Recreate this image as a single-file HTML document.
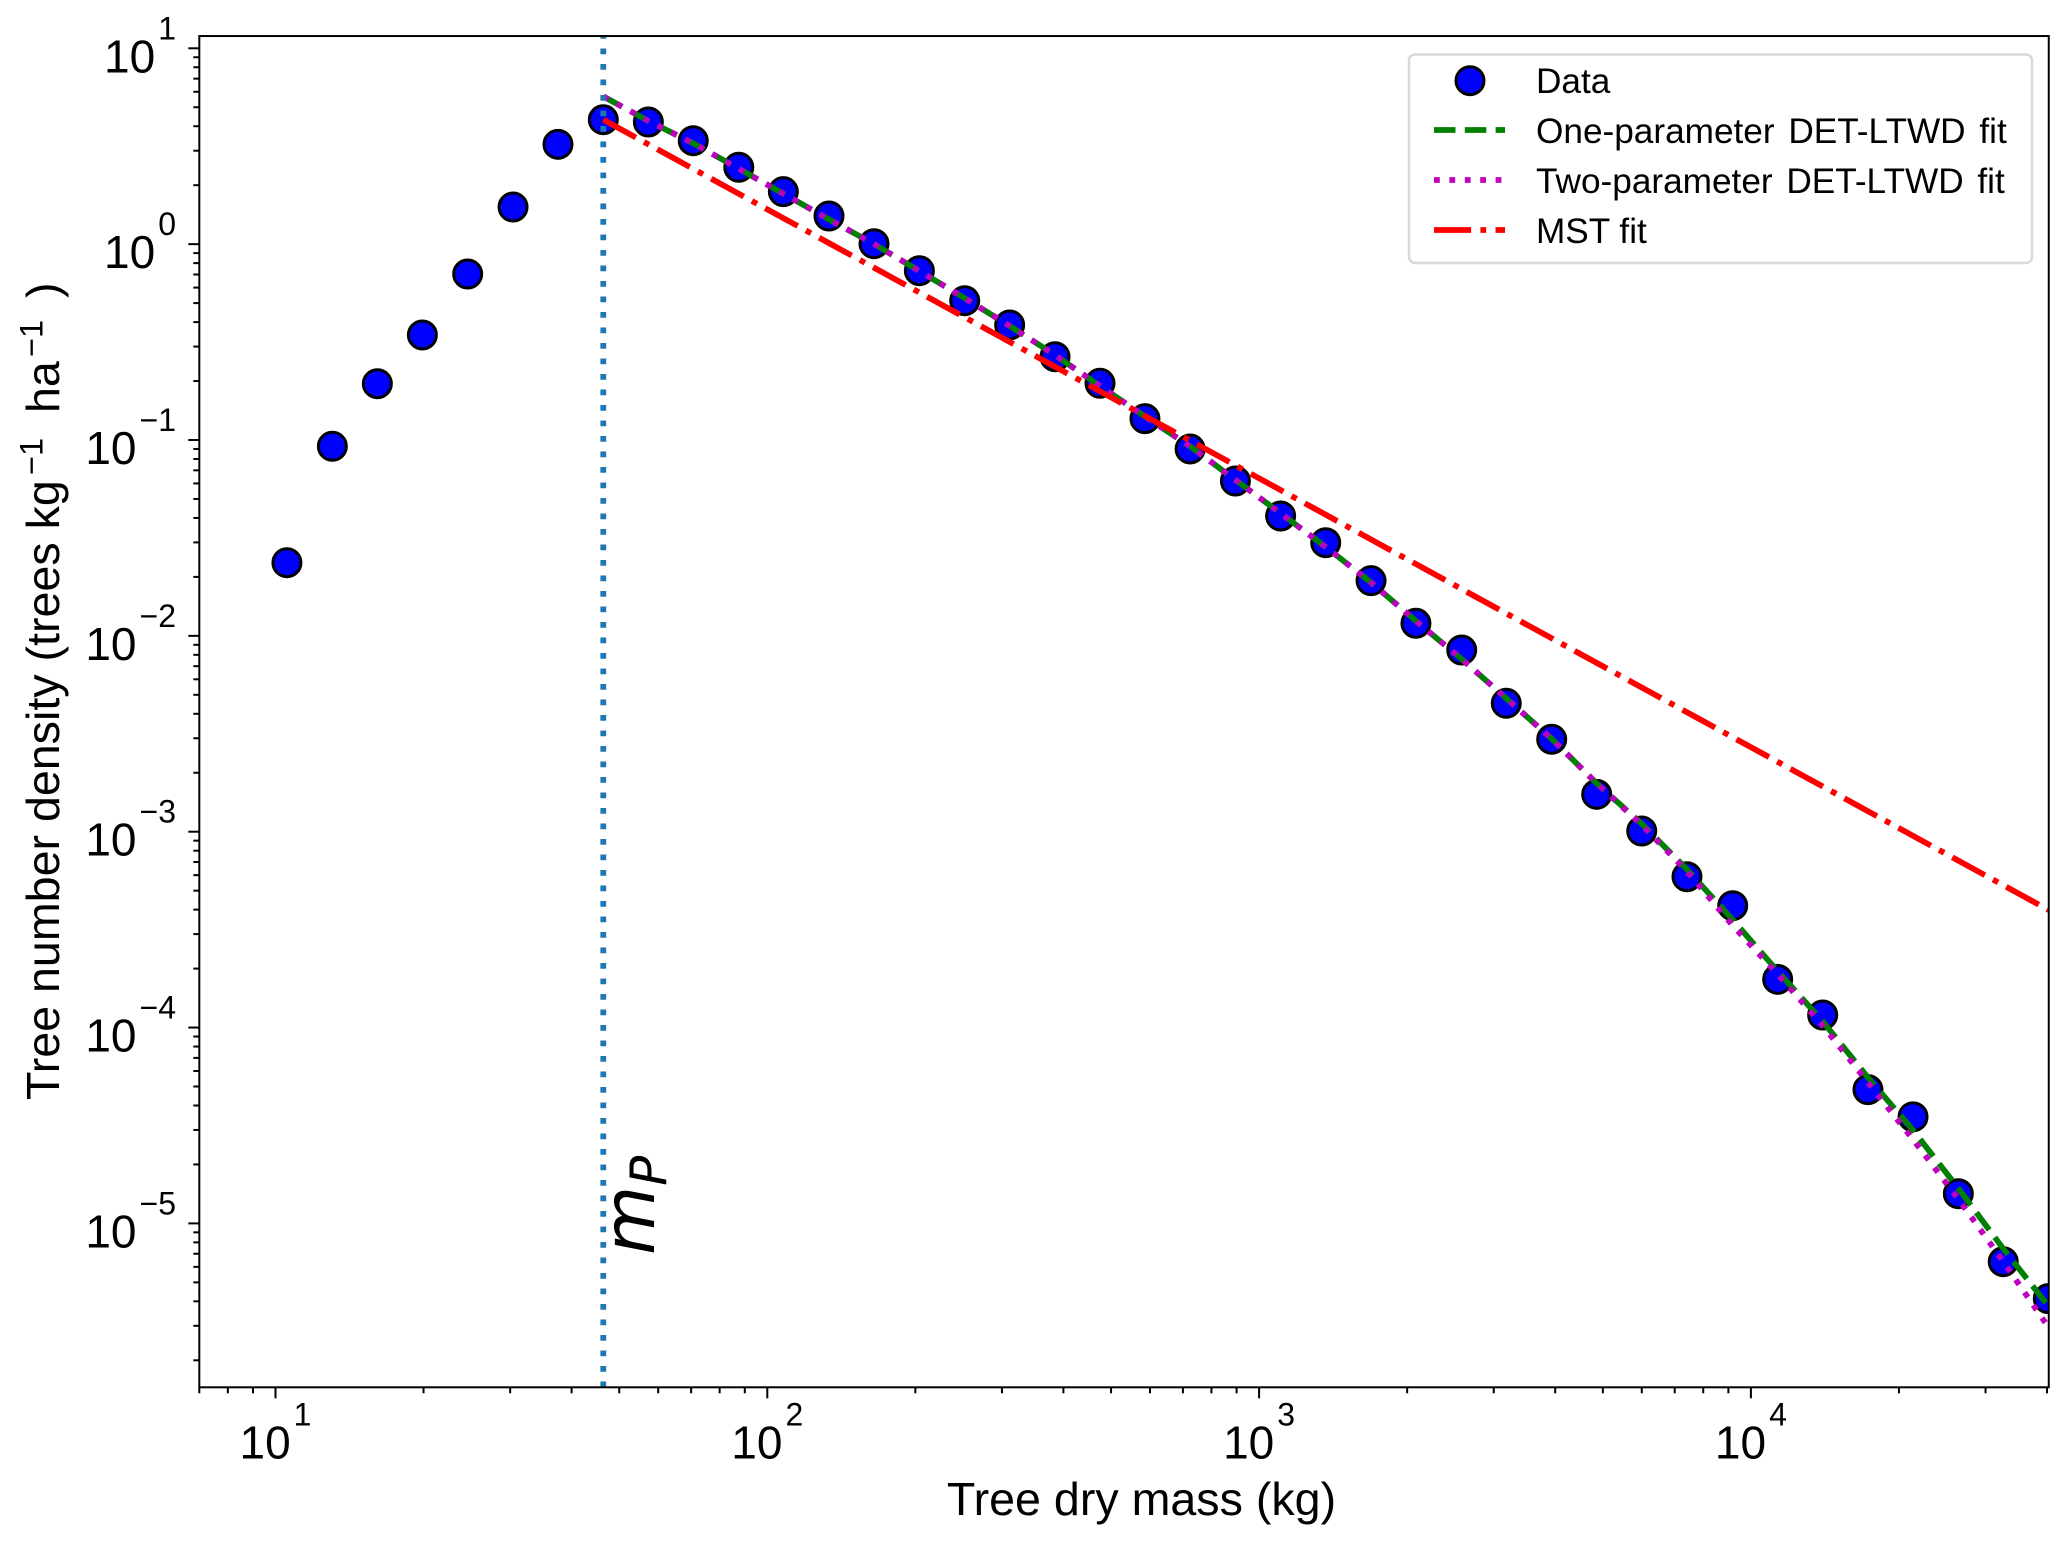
<!DOCTYPE html>
<html lang="en">
<head>
<meta charset="utf-8">
<title>Tree number density vs tree dry mass</title>
<style>
  html, body { margin: 0; padding: 0; background: #fff; }
  body { width: 2067px; height: 1542px; overflow: hidden; }
  svg { display: block; }
  text { font-family: "Liberation Sans", Arial, sans-serif; fill: #000; white-space: pre; }
  .math { font-family: "DejaVu Sans", sans-serif; font-style: oblique; }
</style>
</head>
<body>
<svg id="chart" xmlns="http://www.w3.org/2000/svg" width="2067" height="1542" viewBox="0 0 2067 1542">
  <defs>
    <clipPath id="plot-clip"><rect x="199.5" y="36" width="1849" height="1351.3"></rect></clipPath>
  </defs>
  <rect x="0" y="0" width="2067" height="1542" fill="#ffffff"></rect>
  <g id="marks" clip-path="url(#plot-clip)"></g>
  <g id="axes"></g>
  <text class="math" transform="translate(654,1255) rotate(-90)" font-size="71">m<tspan font-size="50" dy="12">P</tspan></text>
  <text x="1141.5" y="1515" font-size="46.6" text-anchor="middle">Tree dry mass (kg)</text>
  <text transform="translate(59,1100) rotate(-90)" font-size="46.6">Tree number density (trees kg<tspan font-size="32.5" x="625" dy="-16.7">−1</tspan><tspan x="687" dy="16.7">ha</tspan><tspan font-size="32.5" x="743" dy="-16.7">−1</tspan><tspan x="802" dy="16.7">)</tspan></text>
  <g>
    <rect x="1409" y="54.5" width="623" height="208.5" rx="6" ry="6" fill="#ffffff" fill-opacity="0.8" stroke="#d8d8d8" stroke-width="2.5"></rect>
    <circle cx="1470" cy="80.7" r="14" fill="#0000ff" stroke="#000" stroke-width="3"></circle>
    <line x1="1434" y1="130" x2="1505" y2="130" stroke="#008000" stroke-width="5.8" stroke-dasharray="21.5 9.3"></line>
    <line x1="1434" y1="180" x2="1505" y2="180" stroke="#bf00bf" stroke-width="5.8" stroke-dasharray="5.8 9.6"></line>
    <line x1="1434" y1="230" x2="1505" y2="230" stroke="#ff0000" stroke-width="5.8" stroke-dasharray="37.1 9.3 5.8 9.3"></line>
    <text x="1536" y="93" font-size="35.2">Data</text>
    <text x="1536" y="143" font-size="35.2" word-spacing="4">One-parameter DET-LTWD fit</text>
    <text x="1536" y="193" font-size="35.2" word-spacing="4">Two-parameter DET-LTWD fit</text>
    <text x="1536" y="243" font-size="35.2">MST fit</text>
  </g>
</svg>
<script>
// ---- Chart data ----
const masses = [10.55, 13.05, 16.11, 19.89, 24.59, 30.41, 37.53, 46.4, 57.3, 70.7, 87.5, 107.8, 133.5, 164.8, 203.8, 252, 311, 384.6, 474.8, 586, 724, 895, 1106, 1366, 1689, 2084, 2582, 3181, 3935, 4858, 5998, 7414, 9183, 11335, 13994, 17298, 21365, 26410, 32590, 40240];
const densities = [0.02363, 0.09287, 0.1938, 0.3438, 0.7040, 1.548, 3.234, 4.319, 4.204, 3.374, 2.468, 1.853, 1.392, 1.005, 0.7318, 0.5144, 0.3866, 0.2663, 0.1948, 0.1285, 0.0900, 0.06176, 0.04092, 0.02990, 0.01913, 0.01159, 0.008468, 0.004525, 0.002964, 0.001552, 0.001008, 0.000589, 0.000419, 0.0001763, 0.0001159, 0.0000482, 0.0000350, 0.00001418, 0.000006375, 0.000004127];
const fitMasses = [46.4, 57.3, 70.7, 87.5, 107.8, 133.5, 164.8, 203.8, 252, 311, 384.6, 474.8, 586, 724, 895, 1106, 1366, 1689, 2084, 2582, 3181, 3935, 4858, 5998, 7414, 9183, 11335, 13994, 17298, 21365, 26410, 32590, 40240];
const oneParameterFit = [5.68, 4.258, 3.272, 2.428, 1.810, 1.339, 1.001, 0.7293, 0.5298, 0.3825, 0.2712, 0.1887, 0.1319, 0.09275, 0.06255, 0.04224, 0.02843, 0.01873, 0.01191, 0.00761, 0.004794, 0.002981, 0.001765, 0.001098, 0.000642, 0.000355, 0.000194, 0.0001076, 0.0000556, 0.0000299, 0.0000151, 0.00000743, 0.00000379];
const twoParameterFit = [5.68, 4.258, 3.272, 2.428, 1.810, 1.339, 1.001, 0.7293, 0.5298, 0.3825, 0.2712, 0.1887, 0.1319, 0.09275, 0.06255, 0.04224, 0.02843, 0.01873, 0.01191, 0.00761, 0.004794, 0.002981, 0.001765, 0.001082, 0.000627, 0.000332, 0.000187, 0.0001024, 0.0000524, 0.0000268, 0.00001332, 0.00000639, 0.00000296];
const mstMasses = [46.4, 40330];
const mstFit = [4.32, 0.000398];
const peakMass = [46.4];
const xTickExponents = [1, 2, 3, 4];
const yTickExponents = [1, 0, -1, -2, -3, -4, -5];
const xTickLabels = ["1", "2", "3", "4"];
const yTickLabels = ["1", "0", "−1", "−2", "−3", "−4", "−5"];
const minorMultipliers = [2, 3, 4, 5, 6, 7, 8, 9];
const xLimits = [7, 40330];
const yLimits = [1.456e-6, 11.55];

// ---- Axis functions ----
const SVGNS = "http://www.w3.org/2000/svg";
function xAxis(v) { return 275.5 + 491.8 * (Math.log10(v) - 1); }
function yAxis(v) { return 48.3 + 195.85 * (1 - Math.log10(v)); }
const plotLeft = xAxis(xLimits[0]);
const plotRight = xAxis(xLimits[1]);
const plotTop = yAxis(yLimits[1]);
const plotBottom = yAxis(yLimits[0]);

function make(tag, attrs, parent) {
  const el = document.createElementNS(SVGNS, tag);
  for (const k in attrs) el.setAttribute(k, attrs[k]);
  parent.appendChild(el);
  return el;
}
function pathFrom(xs, ys) {
  return xs.map(function (x, i) {
    return (i ? "L" : "M") + xAxis(x).toFixed(2) + " " + yAxis(ys[i]).toFixed(2);
  }).join(" ");
}

const marks = document.getElementById("marks");
const axes = document.getElementById("axes");

// Data markers
const dataGroup = make("g", {}, marks);


masses.forEach(function (m, i) {
  const c = make("circle", { cx: xAxis(m), cy: yAxis(densities[i]), r: 14, fill: "#0000ff", stroke: "#000", "stroke-width": 3 }, dataGroup);
  
  
});

// Fit lines
const greenLine = make("path", { d: pathFrom(fitMasses, oneParameterFit), fill: "none", stroke: "#008000", "stroke-width": 5.8, "stroke-dasharray": "21.5 9.3" }, marks);


const purpleLine = make("path", { d: pathFrom(fitMasses, twoParameterFit), fill: "none", stroke: "#bf00bf", "stroke-width": 5.8, "stroke-dasharray": "5.8 9.6" }, marks);


const redLine = make("path", { d: pathFrom(mstMasses, mstFit), fill: "none", stroke: "#ff0000", "stroke-width": 5.8, "stroke-dasharray": "37.1 9.3 5.8 9.3" }, marks);



// Vertical peak line (drawn bottom to top so the dots phase from the axis)
const peakLine = make("line", { x1: xAxis(peakMass[0]), x2: xAxis(peakMass[0]), y1: plotBottom, y2: plotTop, stroke: "#1f77b4", "stroke-width": 5.8, "stroke-dasharray": "5.8 9.7" }, marks);



// Ticks
function xTick(px, len, name) {
  const t = make("line", { x1: px, x2: px, y1: plotBottom, y2: plotBottom + len, stroke: "#000", "stroke-width": 2 }, axes);
  
  
}
function yTick(py, len, name) {
  const t = make("line", { x1: plotLeft - len, x2: plotLeft, y1: py, y2: py, stroke: "#000", "stroke-width": 2 }, axes);
  
  
}
for (let e = 0; e <= 4; e++) {
  minorMultipliers.forEach(function (m) {
    const v = m * Math.pow(10, e);
    if (v >= xLimits[0] && v <= xLimits[1]) xTick(xAxis(v), 6, 'x-minor-tick');
  });
}
for (let e = -6; e <= 1; e++) {
  minorMultipliers.forEach(function (m) {
    const v = m * Math.pow(10, e);
    if (v >= yLimits[0] && v <= yLimits[1]) yTick(yAxis(v), 6, 'y-minor-tick');
  });
}
xTickExponents.forEach(function (e, i) {
  const px = xAxis(Math.pow(10, e));
  xTick(px, 11, 'x-major-tick');
  const label = make("text", { x: px - 36, y: 1458.3, "font-size": 46 }, axes);
  
  
  label.appendChild(document.createTextNode("10"));
  const sup = make("tspan", { "font-size": 32, dy: -33, dx: 3 }, label);
  sup.textContent = xTickLabels[i];
});
yTickExponents.forEach(function (e, i) {
  const py = yAxis(Math.pow(10, e));
  yTick(py, 11, 'y-major-tick');
  const label = make("text", { x: 176, y: py + 24, "font-size": 46, "text-anchor": "end" }, axes);
  
  
  label.appendChild(document.createTextNode("10"));
  const sup = make("tspan", { "font-size": 32, dy: -33, dx: 3 }, label);
  sup.textContent = yTickLabels[i];
});

// Spines
const frame = make("rect", { x: plotLeft, y: plotTop, width: plotRight - plotLeft, height: plotBottom - plotTop, fill: "none", stroke: "#000", "stroke-width": 2 }, axes);


</script>
</body>
</html>
